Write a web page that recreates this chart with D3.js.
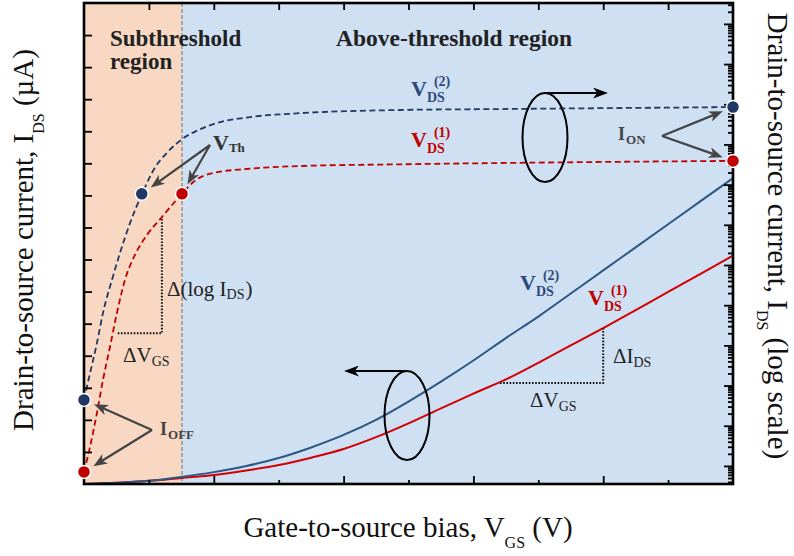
<!DOCTYPE html>
<html lang="en">
<head>
<meta charset="UTF-8">
<title>MOSFET transfer characteristics</title>
<script src="https://d3js.org/d3.v7.min.js"></script>
<style>
  body { margin: 0; background: #fff; }
  svg { font-family: "Liberation Serif", "Times New Roman", serif; }
</style>
</head>
<body>
<svg width="794" height="556"></svg>
<script>
// ---- data ----
// linear-scale curves (left axis, uA)
const vgsLin = [0, 0.05, 0.1, 0.15, 0.2, 0.25, 0.3, 0.35, 0.4, 0.45, 0.5,
                0.55, 0.6, 0.65, 0.7, 0.75, 0.8, 0.85, 0.9, 0.95, 1.0];
const idsLinV2 = [0, 0.4, 1.0, 2.2, 3.7, 5.6, 8.1, 11.4, 15.3, 20.0, 25.7,
                  31.9, 38.5, 45.5, 52.2, 59.4, 66.6, 73.8, 81.0, 88.2, 95.4];
const idsLinV1 = [0, 0.4, 1.0, 1.9, 2.8, 4.2, 5.9, 8.2, 10.9, 14.6, 18.9,
                  23.6, 28.2, 32.6, 37.8, 43.2, 48.6, 54.2, 59.9, 65.5, 71.2];

// log-scale curves (right axis, A)
const vgsLogV2 = [0, 0.0092, 0.020, 0.0293, 0.0431, 0.0555, 0.0709, 0.0894, 0.109,
                  0.129, 0.151, 0.179, 0.21, 0.256, 0.333, 0.487, 0.641, 1.0];
const idsLogV2 = [4.4e-11, 2.0e-10, 1.15e-9, 6.5e-9, 4.3e-8, 2.0e-7, 1.1e-6, 5.9e-6, 2.6e-5,
                  6.5e-5, 1.35e-4, 2.4e-4, 3.6e-4, 4.8e-4, 6.0e-4, 7.2e-4, 7.6e-4, 8.5e-4];
const vgsLogV1 = [0, 0.0092, 0.020, 0.0293, 0.040, 0.0508, 0.0632, 0.0786, 0.097, 0.120,
                  0.137, 0.151, 0.168, 0.199, 0.251, 0.333, 0.487, 0.641, 1.0];
const idsLogV1 = [7.1e-13, 2.95e-12, 2.1e-11, 1.4e-10, 9.1e-10, 6.5e-9, 4.3e-8, 1.8e-7, 5.6e-7, 1.55e-6,
                  3.3e-6, 5.9e-6, 1.15e-5, 1.95e-5, 2.45e-5, 2.9e-5, 3.2e-5, 3.45e-5, 3.9e-5];

// threshold voltages (V2, V1) and threshold current
const vth = [0.089, 0.151];
const iTh = 5.9e-6;

// slope triangles
const triLogV = [0.052, 0.12], triLogI = [2.0e-9, 1.5e-6];
const triLinV = [0.641, 0.8], triLinI = [31.5, 48.6];

// ticks (no labels)
const xMajor = [0.2, 0.4, 0.6, 0.8];
const xMinor = [0.1, 0.3, 0.5, 0.7, 0.9];
const linTicks = [10, 20, 30, 40, 50, 60, 70, 80, 90, 100, 110, 120, 130, 140];
const logMajor = [1e-12, 1e-11, 1e-10, 1e-9, 1e-8, 1e-7, 1e-6, 1e-5, 1e-4, 1e-3, 1e-2, 1e-1];

const cBlueDash = "#1f3864", cRedDash = "#c00000";
const cBlueSolid = "#2a5783", cRedSolid = "#d20000";
const cBlueText = "#2e4a7d";

// ---- layout ----
const plot = {left: 84, right: 733, top: 3, bottom: 484};
const svg = d3.select("svg");

const x = d3.scaleLinear().domain([0, 1]).range([plot.left, plot.right]);
const yLin = d3.scaleLinear().domain([0, 150]).range([plot.bottom, plot.top]);
const yLog = d3.scaleLog().domain([3.55e-13, 0.331]).range([plot.bottom, plot.top]);

const defs = svg.append("defs");
function marker(id, color, w, h) {
  defs.append("marker").attr("id", id)
    .attr("viewBox", `0 0 ${w} ${h}`)
    .attr("refX", w - 5).attr("refY", h / 2)
    .attr("markerWidth", w).attr("markerHeight", h)
    .attr("markerUnits", "userSpaceOnUse").attr("orient", "auto")
    .append("path")
    .attr("d", `M0,0 L${w},${h / 2} L0,${h} L${w * 0.28},${h / 2} Z`)
    .attr("fill", color);
}
marker("headGray", "#444", 14, 11);
marker("headBlack", "#000", 15, 11);

// background regions
svg.append("rect")
  .attr("x", x(0)).attr("y", plot.top)
  .attr("width", x(vth[1]) - x(0)).attr("height", plot.bottom - plot.top)
  .attr("fill", "#f8d8c3");
svg.append("rect")
  .attr("x", x(vth[1])).attr("y", plot.top)
  .attr("width", x(1) - x(vth[1])).attr("height", plot.bottom - plot.top)
  .attr("fill", "#cee0f2");

// threshold divider
svg.append("line")
  .attr("x1", x(vth[1])).attr("x2", x(vth[1]))
  .attr("y1", plot.top).attr("y2", plot.bottom)
  .attr("stroke", "#999").attr("stroke-width", 1.6)
  .attr("stroke-dasharray", "4,2");

// curves
const lineLin = d3.line().x(d => x(d[0])).y(d => yLin(d[1])).curve(d3.curveMonotoneX);
const lineLog = d3.line().x(d => x(d[0])).y(d => yLog(d[1])).curve(d3.curveMonotoneX);

svg.append("path").datum(d3.zip(vgsLin, idsLinV1))
  .attr("d", lineLin).attr("fill", "none")
  .attr("stroke", cRedSolid).attr("stroke-width", 2);
svg.append("path").datum(d3.zip(vgsLin, idsLinV2))
  .attr("d", lineLin).attr("fill", "none")
  .attr("stroke", cBlueSolid).attr("stroke-width", 2);
svg.append("path").datum(d3.zip(vgsLogV1, idsLogV1))
  .attr("d", lineLog).attr("fill", "none")
  .attr("stroke", cRedDash).attr("stroke-width", 1.8)
  .attr("stroke-dasharray", "6,3.5");
svg.append("path").datum(d3.zip(vgsLogV2, idsLogV2))
  .attr("d", lineLog).attr("fill", "none")
  .attr("stroke", cBlueDash).attr("stroke-width", 1.8)
  .attr("stroke-dasharray", "6,3.5");

// slope triangles (dotted)
function dotted(pts) {
  svg.append("polyline")
    .attr("points", pts.map(p => p.join(",")).join(" "))
    .attr("fill", "none").attr("stroke", "#111")
    .attr("stroke-width", 2).attr("stroke-dasharray", "1.6,1.6");
}
dotted([[x(triLogV[0]), yLog(triLogI[0])], [x(triLogV[1]), yLog(triLogI[0])], [x(triLogV[1]), yLog(triLogI[1])]]);
dotted([[x(triLinV[0]), yLin(triLinI[0])], [x(triLinV[1]), yLin(triLinI[0])], [x(triLinV[1]), yLin(triLinI[1])]]);

// frame
svg.append("rect")
  .attr("x", plot.left).attr("y", plot.top)
  .attr("width", plot.right - plot.left).attr("height", plot.bottom - plot.top)
  .attr("fill", "none").attr("stroke", "#000").attr("stroke-width", 2.6);

// ticks
function ticks(axis, tx, ty) {
  const g = svg.append("g").attr("transform", `translate(${tx},${ty})`).call(axis);
  g.select(".domain").remove();
  g.selectAll(".tick line").attr("stroke", "#000").attr("stroke-width", 1.8);
}
ticks(d3.axisBottom(x).tickValues(xMajor).tickSize(-8).tickFormat(""), 0, plot.bottom);
ticks(d3.axisBottom(x).tickValues(xMinor).tickSize(-4).tickFormat(""), 0, plot.bottom);
ticks(d3.axisTop(x).tickValues(xMajor.concat(xMinor)).tickSize(-7).tickFormat(""), 0, plot.top);
ticks(d3.axisLeft(yLin).tickValues(linTicks).tickSize(-8).tickFormat(""), plot.left, 0);
const logMinor = [];
logMajor.concat([1e-13]).forEach(m => {
  for (let k = 2; k <= 9; k++) {
    const v = m * k;
    if (v > yLog.domain()[0] && v < yLog.domain()[1]) logMinor.push(v);
  }
});
ticks(d3.axisRight(yLog).tickValues(logMajor).tickSize(-9).tickFormat(""), plot.right, 0);
ticks(d3.axisRight(yLog).tickValues(logMinor).tickSize(-5).tickFormat(""), plot.right, 0);

// ellipses with direction arrows
function loopArrow(cx, cy, dir) {
  svg.append("ellipse").attr("cx", cx).attr("cy", cy).attr("rx", 22.5).attr("ry", 44.5)
    .attr("fill", "none").attr("stroke", "#000").attr("stroke-width", 2);
  svg.append("line")
    .attr("x1", cx).attr("y1", cy - 44.5)
    .attr("x2", cx + dir * 58).attr("y2", cy - 44.5)
    .attr("stroke", "#000").attr("stroke-width", 2)
    .attr("marker-end", "url(#headBlack)");
}
loopArrow(545, 137.5, 1);
loopArrow(407, 415.5, -1);

// marker dots
const dots = [
  {v: vgsLogV2[0], i: idsLogV2[0], c: cBlueDash},
  {v: vgsLogV1[0], i: idsLogV1[0], c: cRedDash},
  {v: vth[0], i: iTh, c: cBlueDash},
  {v: vth[1], i: iTh, c: cRedDash},
  {v: vgsLogV2[vgsLogV2.length - 1], i: idsLogV2[idsLogV2.length - 1], c: cBlueDash},
  {v: vgsLogV1[vgsLogV1.length - 1], i: idsLogV1[idsLogV1.length - 1], c: cRedDash}
];
svg.selectAll(".dot").data(dots).enter().append("circle")
  .attr("class", "dot")
  .attr("cx", d => x(d.v)).attr("cy", d => yLog(d.i)).attr("r", 6.5)
  .attr("fill", d => d.c).attr("stroke", "#fff").attr("stroke-width", 1.5);

// gray pointer arrows from a label to a dot
function pointer(fx, fy, d) {
  const tx = x(d.v), ty = yLog(d.i);
  const dx = fx - tx, dy = fy - ty, len = Math.hypot(dx, dy);
  const ux = dx / len, uy = dy / len, gap = 11, back = 5;
  svg.append("line")
    .attr("x1", fx).attr("y1", fy)
    .attr("x2", tx + ux * (gap + back)).attr("y2", ty + uy * (gap + back))
    .attr("stroke", "#444").attr("stroke-width", 2.2)
    .attr("marker-end", "url(#headGray)");
}
pointer(210, 145, dots[2]);
pointer(210, 145, dots[3]);
pointer(152, 430, dots[0]);
pointer(152, 430, dots[1]);
pointer(662, 136, dots[4]);
pointer(662, 136, dots[5]);

// text with sub / superscript
function mathLabel(px, py, o) {
  const g = svg.append("g");
  const main = g.append("text").attr("x", px).attr("y", py)
    .attr("font-size", o.size).attr("font-weight", o.bold ? "bold" : "normal")
    .attr("fill", o.color).text(o.main);
  const w = main.node().getComputedTextLength();
  let end = px + w;
  if (o.sub) {
    const s = g.append("text").attr("x", px + w + (o.subDx || 0)).attr("y", py + o.subDy)
      .attr("font-size", o.subSize).attr("font-weight", o.bold ? "bold" : "normal")
      .attr("fill", o.color).text(o.sub);
    end = px + w + (o.subDx || 0) + s.node().getComputedTextLength();
  }
  if (o.sup) {
    g.append("text").attr("x", px + w + (o.supDx || 0)).attr("y", py + o.supDy)
      .attr("font-size", o.subSize).attr("font-weight", o.bold ? "bold" : "normal")
      .attr("fill", o.color).text(o.sup);
  }
  if (o.after) {
    g.append("text").attr("x", end + 1).attr("y", py)
      .attr("font-size", o.size).attr("fill", o.color).text(o.after);
  }
}

// region titles
svg.append("text").attr("x", 110).attr("y", 46).attr("font-size", 23)
  .attr("font-weight", "bold").attr("fill", "#222").text("Subthreshold");
svg.append("text").attr("x", 110).attr("y", 69).attr("font-size", 23)
  .attr("font-weight", "bold").attr("fill", "#222").text("region");
svg.append("text").attr("x", 336).attr("y", 46).attr("font-size", 23.5)
  .attr("font-weight", "bold").attr("fill", "#222").text("Above-threshold region");

// curve labels
const vds = (px, py, n, color) => mathLabel(px, py, {
  main: "V", sub: "DS", sup: `(${n})`, size: 22, subSize: 14, bold: true, color: color,
  subDy: 6, supDx: 7, supDy: -10
});
vds(411, 96, 2, cBlueText);
vds(411, 147, 1, cRedDash);
vds(520, 290, 2, cBlueText);
vds(588, 305, 1, cRedDash);

mathLabel(213, 150, {main: "V", sub: "Th", size: 22, subSize: 13, bold: true, color: "#333", subDy: 2});
mathLabel(160, 435, {main: "I", sub: "OFF", size: 18, subSize: 13, bold: true, color: "#444", subDy: 4, subDx: 1});
mathLabel(618, 140, {main: "I", sub: "ON", size: 18, subSize: 13, bold: true, color: "#444", subDy: 4, subDx: 1});

mathLabel(167, 296, {main: "\u0394(log I", sub: "DS", after: ")", size: 21, subSize: 14, color: "#222", subDy: 3});
mathLabel(123, 362, {main: "\u0394V", sub: "GS", size: 21, subSize: 14, color: "#222", subDy: 4});
mathLabel(613, 363, {main: "\u0394I", sub: "DS", size: 21, subSize: 14, color: "#222", subDy: 4});
mathLabel(530, 407, {main: "\u0394V", sub: "GS", size: 21, subSize: 14, color: "#222", subDy: 4});

// axis titles
function axisTitle(t, before, sub, after) {
  t.attr("font-size", 29).attr("fill", "#111");
  t.append("tspan").text(before);
  t.append("tspan").attr("font-size", 16).attr("dy", 11).text(sub);
  t.append("tspan").attr("dy", -11).text(after);
}
axisTitle(svg.append("text").attr("text-anchor", "middle")
  .attr("x", 408).attr("y", 537), "Gate-to-source bias, V", "GS", " (V)");
axisTitle(svg.append("text").attr("text-anchor", "middle")
  .attr("transform", "translate(33,240) rotate(-90)"), "Drain-to-source current, I", "DS", " (\u00b5A)");
axisTitle(svg.append("text").attr("text-anchor", "middle")
  .attr("transform", "translate(768,236) rotate(90)"), "Drain-to-source current, I", "DS", " (log scale)");
</script>
</body>
</html>
